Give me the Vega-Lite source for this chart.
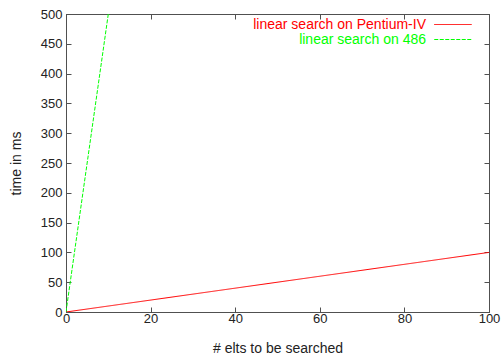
{
  "$schema": "https://vega.github.io/schema/vega-lite/v6.json",
  "width": 423,
  "height": 298,
  "autosize": {"type": "none"},
  "padding": {"left": 66, "top": 14, "right": 14, "bottom": 46},
  "background": "white",
  "config": {
    "font": "Liberation Sans",
    "view": {"stroke": "#505050", "strokeWidth": 1},
    "axis": {
      "grid": false,
      "domainColor": "#505050",
      "tickColor": "#505050",
      "tickSize": -5,
      "labelFlush": false,
      "labelOverlap": false,
      "labelFont": "Liberation Sans",
      "labelFontSize": 13,
      "labelColor": "#222222",
      "titleFont": "Liberation Sans",
      "titleFontSize": 14,
      "titleFontWeight": "normal",
      "titleColor": "#222222"
    },
    "legend": {
      "labelFont": "Liberation Sans",
      "labelFontSize": 14
    }
  },
  "datasets": {
    "lines": [
      {"x": 0, "y": 0, "series": "linear search on Pentium-IV"},
      {"x": 100, "y": 100, "series": "linear search on Pentium-IV"},
      {"x": 0, "y": 0, "series": "linear search on 486"},
      {"x": 10, "y": 500, "series": "linear search on 486"}
    ],
    "frame": [{"x": 0, "y": 0}]
  },
  "layer": [
    {
      "data": {"name": "lines"},
      "mark": {"type": "line", "strokeWidth": 1, "clip": true},
      "encoding": {
        "x": {
          "field": "x", "type": "quantitative",
          "scale": {"domain": [0, 100], "nice": false, "zero": false},
          "axis": {"orient": "bottom", "values": [0, 20, 40, 60, 80, 100], "labelPadding": 5, "title": "# elts to be searched", "titlePadding": 16}
        },
        "y": {
          "field": "y", "type": "quantitative",
          "scale": {"domain": [0, 500], "nice": false, "zero": false},
          "axis": {"orient": "left", "values": [0, 50, 100, 150, 200, 250, 300, 350, 400, 450, 500], "labelPadding": 9, "title": "time in ms", "titlePadding": 17}
        },
        "color": {
          "field": "series", "type": "nominal",
          "scale": {"domain": ["linear search on Pentium-IV", "linear search on 486"], "range": ["#ff0000", "#00ff00"]},
          "legend": {
            "title": null,
            "orient": "none",
            "legendX": 185,
            "legendY": 2.5,
            "padding": 0,
            "symbolType": "M-2.5,0H2.5",
            "symbolSize": 225,
            "symbolStrokeWidth": 1,
            "symbolOffset": 194,
            "rowPadding": 0,
            "labelAlign": "right",
            "labelOffset": -35,
            "labelFontSize": 14,
            "labelLimit": 400,
            "encode": {
              "labels": {"update": {"fill": {"signal": "datum.value === 'linear search on 486' ? '#00ff00' : '#ff0000'"}}}
            }
          }
        },
        "strokeDash": {
          "field": "series", "type": "nominal",
          "scale": {"domain": ["linear search on Pentium-IV", "linear search on 486"], "range": [[1, 0], [4, 1.5]]},
          "legend": {
            "title": null,
            "orient": "none",
            "legendX": 185,
            "legendY": 2.5,
            "padding": 0,
            "symbolType": "M-2.5,0H2.5",
            "symbolSize": 225,
            "symbolStrokeWidth": 1,
            "symbolOffset": 194,
            "rowPadding": 0,
            "labelAlign": "right",
            "labelOffset": -35,
            "labelFontSize": 14,
            "labelLimit": 400,
            "encode": {
              "labels": {"update": {"fill": {"signal": "datum.value === 'linear search on 486' ? '#00ff00' : '#ff0000'"}}}
            }
          }
        }
      }
    },
    {
      "data": {"name": "frame"},
      "mark": {"type": "point", "opacity": 0},
      "encoding": {
        "x": {
          "field": "x", "type": "quantitative",
          "scale": {"domain": [0, 100], "nice": false, "zero": false},
          "axis": {"orient": "top", "values": [0, 20, 40, 60, 80, 100], "labels": false, "title": null}
        },
        "y": {
          "field": "y", "type": "quantitative",
          "scale": {"domain": [0, 500], "nice": false, "zero": false},
          "axis": {"orient": "right", "values": [0, 50, 100, 150, 200, 250, 300, 350, 400, 450, 500], "labels": false, "title": null}
        }
      }
    }
  ],
  "resolve": {"scale": {"x": "independent", "y": "independent"}}
}
